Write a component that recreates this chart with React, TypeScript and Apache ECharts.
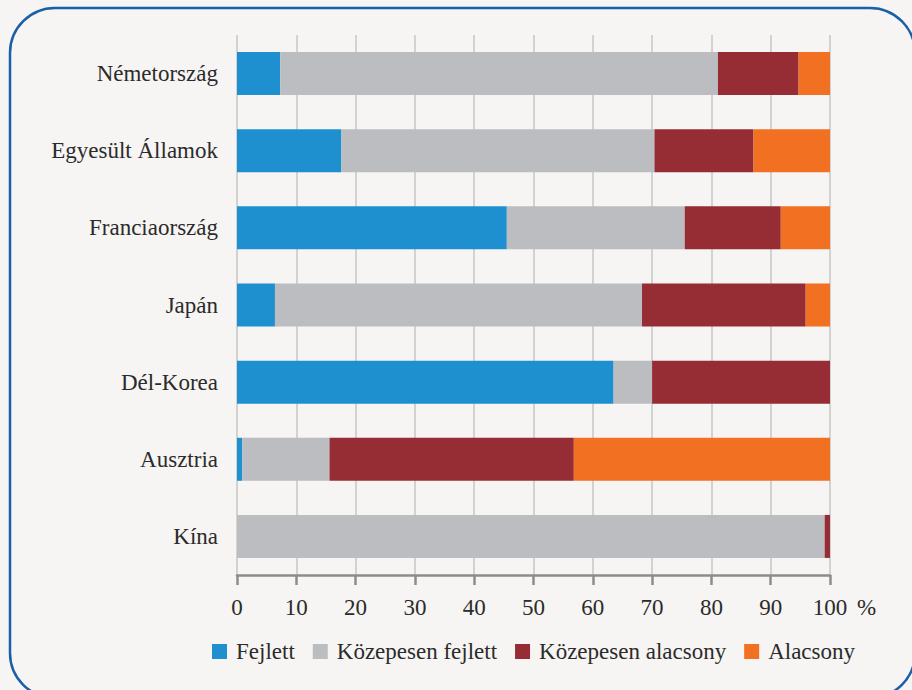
import React, { useEffect, useRef } from "react";
import * as echarts from "echarts";

const categories = ["Németország", "Egyesült Államok", "Franciaország", "Japán", "Dél-Korea", "Ausztria", "Kína"];
const seriesNames = ["Fejlett", "Közepesen fejlett", "Közepesen alacsony", "Alacsony"];
const fejlett = [7.3, 17.6, 45.5, 6.4, 63.5, 0.9, 0];
const kozepesenFejlett = [73.8, 52.8, 30.0, 61.9, 6.5, 14.7, 99.1];
const kozepesenAlacsony = [13.6, 16.7, 16.2, 27.6, 30.0, 41.2, 0.9];
const alacsony = [5.3, 12.9, 8.3, 4.1, 0, 43.2, 0];
const colors = ["#1e90cf", "#bcbdc0", "#962d35", "#f27022"];

const FONT = "'Liberation Serif', 'Times New Roman', serif";
const FS = 23;

export default function App() {
  const ref = useRef<HTMLDivElement>(null);
  useEffect(() => {
    if (!ref.current) return;
    const chart = echarts.init(ref.current, null, { renderer: "svg" });
    const data = [fejlett, kozepesenFejlett, kozepesenAlacsony, alacsony];
    chart.setOption({
      animation: false,
      backgroundColor: "#f6f5f3",
      color: colors,
      textStyle: { fontFamily: FONT, fontSize: FS },
      grid: { left: 237, right: 82, top: 35, bottom: 115 },
      xAxis: {
        type: "value",
        min: 0,
        max: 100,
        interval: 10,
        axisLine: { show: true, lineStyle: { color: "#8c8c8c", width: 2.5 } },
        axisTick: { show: true, length: 10, lineStyle: { color: "#8c8c8c", width: 2.5 } },
        axisLabel: { color: "#2b2b2b", fontSize: FS, fontFamily: FONT, margin: 21 },
        splitLine: { show: true, lineStyle: { color: "#c6c6c6", width: 1.5 } },
      },
      yAxis: {
        type: "category",
        data: categories,
        inverse: true,
        axisLine: { show: false },
        axisTick: { show: false },
        axisLabel: { color: "#2b2b2b", fontSize: FS, fontFamily: FONT, margin: 19 },
      },
      legend: {
        left: 207,
        top: 635,
        itemWidth: 15,
        itemHeight: 15,
        itemGap: 18,
        icon: "rect",
        textStyle: { color: "#2b2b2b", fontSize: FS, fontFamily: FONT, padding: [0, 0, 0, 4] },
        data: seriesNames,
      },
      series: seriesNames.map((name, i) => ({
        name,
        type: "bar",
        stack: "total",
        barWidth: 43,
        data: data[i],
        itemStyle: { color: colors[i] },
      })),
      graphic: [
        {
          type: "text",
          x: 857,
          y: 607,
          style: {
            text: "%",
            fontSize: FS,
            fontFamily: FONT,
            fill: "#2b2b2b",
            verticalAlign: "middle",
            align: "left",
          },
        },
        {
          type: "rect",
          shape: { x: 10, y: 8, width: 905, height: 690, r: 45 },
          style: { fill: "none", stroke: "#1b5fa6", lineWidth: 2.5 },
          silent: true,
        },
      ],
    });
    return () => chart.dispose();
  }, []);
  return (
    <div
      ref={ref}
      style={{ position: "fixed", left: 0, top: 0, width: 912, height: 690 }}
    />
  );
}
